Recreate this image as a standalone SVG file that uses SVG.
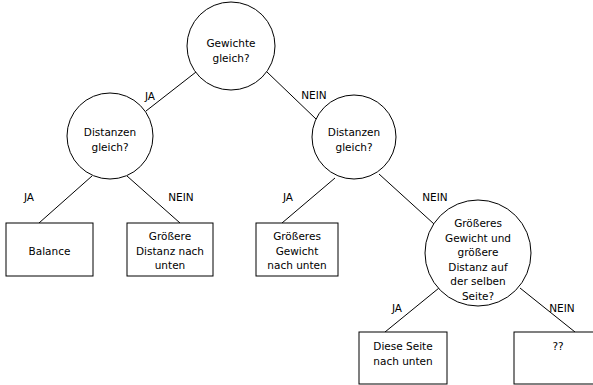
<svg xmlns="http://www.w3.org/2000/svg" width="593" height="385" viewBox="0 0 593 385">
  <style>
    .node { fill: #ffffff; stroke: #000000; stroke-width: 1; }
    .edge { stroke: #000000; stroke-width: 1; fill: none; }
    text { font-family: "DejaVu Sans", Verdana, sans-serif; font-size: 10.5px; fill: #000000; text-anchor: middle; }
  </style>
  <rect width="593" height="385" fill="#ffffff"/>

  <!-- connectors -->
  <g id="connectors">
    <line class="edge" x1="196" y1="72" x2="146" y2="111"/>
    <line class="edge" x1="267" y1="72" x2="316" y2="119"/>
    <line class="edge" x1="92" y1="176" x2="39" y2="223"/>
    <line class="edge" x1="127" y1="176" x2="180" y2="223"/>
    <line class="edge" x1="335" y1="178" x2="282" y2="223"/>
    <line class="edge" x1="379" y1="174" x2="434" y2="224"/>
    <line class="edge" x1="439" y1="288" x2="385" y2="332"/>
    <line class="edge" x1="520" y1="288" x2="575" y2="332"/>
    <text x="150" y="100">JA</text>
    <text x="314" y="99">NEIN</text>
    <text x="29" y="201">JA</text>
    <text x="181" y="201">NEIN</text>
    <text x="288" y="201">JA</text>
    <text x="435" y="201">NEIN</text>
    <text x="397" y="312">JA</text>
    <text x="562" y="312">NEIN</text>
  </g>

  <g id="gewichte-gleich">
    <circle class="node" cx="231" cy="46" r="44"/>
    <text x="231" y="47">Gewichte</text>
    <text x="231" y="61.5">gleich?</text>
  </g>

  <g id="distanzen-gleich-links">
    <circle class="node" cx="110" cy="136" r="43"/>
    <text x="110" y="136">Distanzen</text>
    <text x="110" y="150.5">gleich?</text>
  </g>

  <g id="distanzen-gleich-rechts">
    <circle class="node" cx="354" cy="137" r="42"/>
    <text x="354" y="136">Distanzen</text>
    <text x="354" y="150.5">gleich?</text>
  </g>

  <g id="gleiche-seite">
    <circle class="node" cx="478" cy="253" r="53"/>
    <text x="478" y="227">Größeres</text>
    <text x="478" y="241.5">Gewicht und</text>
    <text x="478" y="256">größere</text>
    <text x="478" y="270.5">Distanz auf</text>
    <text x="478" y="285">der selben</text>
    <text x="478" y="299.5">Seite?</text>
  </g>

  <g id="balance">
    <rect class="node" x="6" y="223" width="87" height="53"/>
    <text x="49.5" y="255">Balance</text>
  </g>

  <g id="distanz-nach-unten">
    <rect class="node" x="127" y="223" width="86" height="53"/>
    <text x="170" y="240">Größere</text>
    <text x="170" y="254.5">Distanz nach</text>
    <text x="170" y="269">unten</text>
  </g>

  <g id="gewicht-nach-unten">
    <rect class="node" x="256" y="223" width="82" height="53"/>
    <text x="297" y="240">Größeres</text>
    <text x="297" y="254.5">Gewicht</text>
    <text x="297" y="269">nach unten</text>
  </g>

  <g id="diese-seite">
    <rect class="node" x="359" y="332" width="88" height="52"/>
    <text x="403" y="350">Diese Seite</text>
    <text x="403" y="364.5">nach unten</text>
  </g>

  <g id="unbekannt">
    <rect class="node" x="514" y="332" width="88" height="52"/>
    <text x="558" y="350">??</text>
  </g>
</svg>
